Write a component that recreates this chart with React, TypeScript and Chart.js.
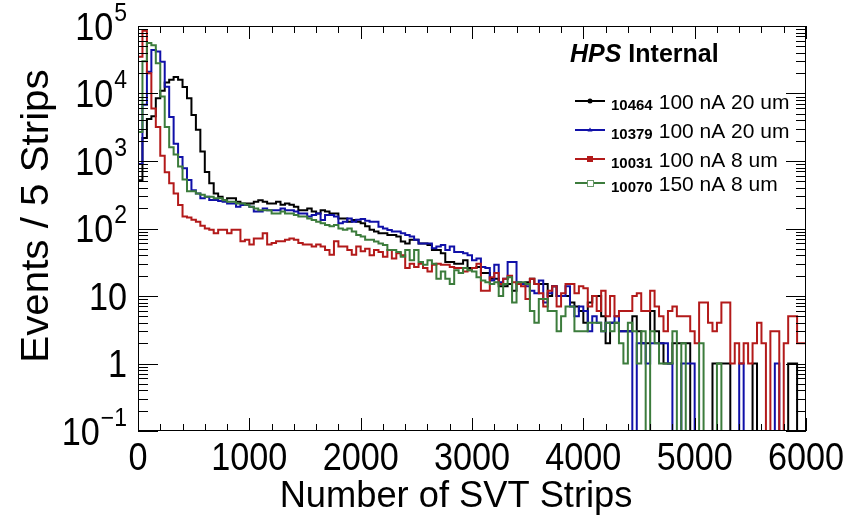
import React, { useEffect, useRef } from "react";
import { Chart, registerables } from "chart.js";

Chart.register(...registerables);

// ---------------- data ----------------
const BIN_WIDTH = 40;
const X_MIN = 0;
const X_MAX = 6000;
const Y_MIN = 0.1;
const Y_MAX = 1e5;
const ZERO_FLOOR = 0.01;

const X_TICKS = [0, 1000, 2000, 3000, 4000, 5000, 6000];
const X_TICK_LABELS = ["0", "1000", "2000", "3000", "4000", "5000", "6000"];
const Y_TICK_VALUES = [0.1, 1, 10, 100, 1000, 10000, 100000];
const Y_TICK_BASES = ["10", "1", "10", "10", "10", "10", "10"];
const Y_TICK_EXPONENTS = ["\u22121", "", "", "2", "3", "4", "5"];

const X_TITLE = "Number of SVT Strips";
const Y_TITLE = "Events / 5 Strips";
const HEADER_ITALIC = "HPS";
const HEADER_REST = " Internal";

const RUN_NUMBERS = ["10464", "10379", "10031", "10070"];
const RUN_LABELS = ["100 nA 20 um", "100 nA 20 um", "100 nA 8 um", "150 nA 8 um"];

const run10464 = [
  300, 520, 2200, 4200, 4600, 8500, 11000, 14500, 16000, 17500,
  16000, 12500, 8500, 4800, 2900, 1380, 690, 470, 330, 295,
  262, 280, 280, 250, 235, 235, 235, 250, 262, 250,
  235, 235, 250, 224, 235, 224, 210, 187, 187, 198,
  178, 167, 187, 178, 167, 167, 141, 141, 126, 134,
  126, 120, 108, 96, 90, 85, 85, 80, 80, 76,
  64, 60, 68, 68, 60, 60, 57, 48, 48, 43,
  32, 32, 30, 30, 34, 26, 26, 27, 22, 22,
  18, 18, 14, 14, 15, 12, 15, 15, 16, 18,
  15, 15, 15, 10, 14, 10, 10, 10, 8, 7,
  6, 4, 8, 10, 10, 5, 2, 4, 4, 3,
  3, 3, 5, 3, 2, 2, 6, 3, 2, 1,
  1, 2, 2, 2, 2, 0, 0, 0, 0, 0,
  1, 1, 1, 1, 0, 0, 0, 0, 0, 1,
  0, 0, 0, 0, 0, 0, 0, 1, 1, 0,
];

const run10379 = [
  20, 900, 6800, 21000, 44000, 42000, 29500, 12600, 4500, 1800,
  1150, 780, 525, 370, 330, 280, 295, 265, 265, 255,
  250, 235, 235, 210, 222, 222, 210, 178, 178, 198,
  187, 187, 187, 198, 187, 187, 178, 167, 167, 150,
  158, 167, 134, 158, 158, 150, 120, 126, 141, 126,
  135, 138, 130, 126, 126, 106, 100, 95, 90, 90,
  85, 80, 76, 68, 60, 60, 60, 51, 54, 57,
  48, 54, 45, 45, 43, 40, 34, 36, 27, 26,
  17, 29, 16, 18, 32, 32, 16, 15, 14, 12,
  11, 17, 8, 11, 14, 10, 10, 14, 7, 5,
  7, 6, 3, 5, 4, 3, 4, 4, 5, 3,
  3, 3, 0, 2, 2, 1, 2, 2, 2, 2,
  1, 0, 0, 1, 1, 1, 0, 0, 0, 0,
  0, 0, 0, 0, 0, 0, 1, 0, 0, 0,
  0, 0, 0, 0, 1, 0, 0, 0, 0, 0,
];

const run10031 = [
  490, 35000, 85000, 20000, 6000, 3200, 1200, 680, 470, 330,
  222, 150, 146, 135, 126, 110, 100, 96, 85, 96,
  96, 85, 96, 96, 65, 68, 58, 71, 71, 85,
  58, 61, 65, 65, 68, 71, 68, 61, 58, 58,
  54, 58, 54, 48, 41, 65, 54, 54, 48, 41,
  54, 46, 50, 40, 48, 45, 38, 48, 36, 43,
  40, 26, 30, 27, 30, 26, 23, 29, 30, 29,
  29, 27, 26, 26, 23, 24, 26, 30, 12, 12,
  19, 22, 15, 18, 20, 16, 15, 14, 9, 18,
  15, 11, 7, 12, 14, 7, 11, 15, 15, 11,
  14, 13, 7, 10, 6, 12, 5, 10, 5, 6,
  6, 6, 10, 11, 6, 6, 12, 7, 5, 3,
  6, 7, 5, 5, 5, 3, 2, 8, 8, 4,
  3, 4, 8, 8, 1, 2, 1, 2, 1, 2,
  4, 2, 0, 3, 3, 0, 2, 5, 5, 2,
];

const run10070 = [
  44, 2700, 30000, 56000, 52000, 28000, 9000, 3200, 1600, 1250,
  830, 530, 355, 355, 330, 315, 295, 295, 280, 280,
  262, 250, 250, 235, 235, 224, 210, 198, 187, 187,
  187, 167, 167, 178, 167, 167, 158, 150, 150, 141,
  134, 126, 120, 113, 108, 113, 100, 96, 100, 90,
  80, 76, 68, 68, 64, 60, 57, 48, 48, 45,
  38, 48, 34, 48, 32, 29, 34, 30, 18, 23,
  18, 15, 24, 22, 26, 24, 23, 19, 17, 16,
  15, 16, 10, 15, 19, 8, 16, 16, 15, 6,
  4, 9, 9, 6, 6, 3, 5, 7, 7, 3,
  3, 3, 4, 4, 4, 3, 4, 3, 4, 2,
  1, 4, 3, 1, 3, 0, 3, 2, 1, 1,
  1, 3, 0, 2, 0, 0, 0, 2, 0, 0,
  0, 1, 0, 0, 0, 0, 0, 0, 0, 0,
  0, 0, 0, 0, 0, 0, 0, 0, 0, 0,
];

const SERIES = [run10464, run10379, run10031, run10070];
const COLORS = ["#000000", "#1010a8", "#b31a1a", "#3c7c3c"];
const MARKERS = ["circle", "triangle", "square", "openSquare"];

// ---------------- helpers ----------------
const FONT = '"Liberation Sans", Arial, Helvetica, sans-serif';

function drawText(
  ctx: CanvasRenderingContext2D,
  text: string,
  x: number,
  y: number,
  font: string,
  align: "left" | "center" | "right",
  sx = 1
) {
  ctx.save();
  ctx.font = font;
  ctx.textBaseline = "alphabetic";
  ctx.textAlign = "left";
  const w = ctx.measureText(text).width * sx;
  const x0 = align === "center" ? x - w / 2 : align === "right" ? x - w : x;
  ctx.translate(x0, y);
  ctx.scale(sx, 1);
  ctx.fillText(text, 0, 0);
  ctx.restore();
  return w;
}

function histPoints(values: number[]) {
  const pts = values.map((v, i) => ({ x: X_MIN + i * BIN_WIDTH, y: v > 0 ? v : ZERO_FLOOR }));
  const last = values[values.length - 1];
  pts.push({ x: X_MIN + values.length * BIN_WIDTH, y: last > 0 ? last : ZERO_FLOOR });
  return pts;
}

const rootStylePlugin = {
  id: "rootStyle",
  afterDatasetsDraw(chart: any) {
    const ctx: CanvasRenderingContext2D = chart.ctx;
    const { left, right, top, bottom } = chart.chartArea;
    const xs = chart.scales.x;
    const ys = chart.scales.y;
    ctx.save();
    ctx.strokeStyle = "#000";
    ctx.fillStyle = "#000";
    ctx.lineWidth = 1;

    const seg = (x1: number, y1: number, x2: number, y2: number) => {
      ctx.beginPath();
      ctx.moveTo(x1, y1);
      ctx.lineTo(x2, y2);
      ctx.stroke();
    };

    // frame
    ctx.strokeRect(left + 0.5, top + 0.5, right - left - 1, bottom - top - 1);

    // x ticks (bottom & top)
    for (let v = X_MIN; v <= X_MAX; v += 200) {
      const px = Math.round(xs.getPixelForValue(v)) + 0.5;
      const len = v % 1000 === 0 ? 13 : 7;
      seg(px, bottom, px, bottom - len);
      seg(px, top, px, top + len);
    }
    // y ticks (left & right)
    for (let e = -1; e <= 5; e++) {
      for (let m = 1; m <= 9; m++) {
        const v = m * Math.pow(10, e);
        if (v < Y_MIN * 0.999 || v > Y_MAX * 1.001) continue;
        const py = Math.round(ys.getPixelForValue(v)) + 0.5;
        const len = m === 1 ? 20 : 10;
        seg(left, py, left + len, py);
        seg(right, py, right - len, py);
      }
    }

    // y tick labels
    const mainSize = 38;
    const supSize = 25;
    const labelRight = 127;
    Y_TICK_VALUES.forEach((v, i) => {
      const py = ys.getPixelForValue(v);
      const base = Y_TICK_BASES[i];
      const sup = Y_TICK_EXPONENTS[i];
      const baseY = py + (mainSize * 0.716) / 2;
      let supW = 0;
      if (sup) {
        supW = drawText(ctx, sup, labelRight, py - 5.5, `${supSize}px ${FONT}`, "right", 0.92);
      }
      drawText(ctx, base, labelRight - (sup ? supW + 1 : 0), baseY, `${mainSize}px ${FONT}`, "right", 0.9);
    });

    // x tick labels
    X_TICKS.forEach((v, i) => {
      const px = xs.getPixelForValue(v);
      drawText(ctx, X_TICK_LABELS[i], px, 470, `${mainSize}px ${FONT}`, "center", 0.9);
    });

    // x title
    drawText(ctx, X_TITLE, 456, 507, `37px ${FONT}`, "center", 0.98);

    // y title
    ctx.save();
    ctx.translate(48, 216);
    ctx.rotate(-Math.PI / 2);
    drawText(ctx, Y_TITLE, 0, 0, `38px ${FONT}`, "center", 1.06);
    ctx.restore();

    // header
    const wItal = drawText(ctx, HEADER_ITALIC, 570, 62, `italic bold 25px ${FONT}`, "left", 1);
    drawText(ctx, HEADER_REST, 570 + wItal, 62, `bold 25px ${FONT}`, "left", 1);

    // legend
    const rows = [101, 130, 159, 183];
    rows.forEach((ry, i) => {
      const c = COLORS[i];
      ctx.strokeStyle = c;
      ctx.fillStyle = c;
      ctx.lineWidth = 2;
      seg(575, ry, 605, ry);
      const mx = 590;
      const mk = MARKERS[i];
      if (mk === "circle") {
        ctx.beginPath();
        ctx.arc(mx, ry, 2.5, 0, Math.PI * 2);
        ctx.fill();
      } else if (mk === "triangle") {
        ctx.beginPath();
        ctx.moveTo(mx, ry - 2.5);
        ctx.lineTo(mx + 2.5, ry + 1.5);
        ctx.lineTo(mx - 2.5, ry + 1.5);
        ctx.closePath();
        ctx.fill();
      } else if (mk === "square") {
        ctx.fillRect(mx - 3, ry - 3, 6, 6);
      } else {
        ctx.fillStyle = "#ffffff";
        ctx.fillRect(mx - 3, ry - 3, 6, 6);
        ctx.lineWidth = 1;
        ctx.strokeStyle = "#6a9a6a";
        ctx.strokeRect(mx - 3 + 0.5, ry - 3 + 0.5, 6, 6);
      }
      ctx.fillStyle = "#000";
      const wNum = drawText(ctx, RUN_NUMBERS[i], 611, ry + 9, `bold 15px ${FONT}`, "left", 1);
      drawText(ctx, RUN_LABELS[i], 611 + wNum + 6, ry + 7.5, `21px ${FONT}`, "left", 1);
    });

    ctx.restore();
  },
};

export default function App() {
  const canvasRef = useRef<HTMLCanvasElement | null>(null);

  useEffect(() => {
    document.body.style.margin = "0";
    const canvas = canvasRef.current;
    if (!canvas) return;
    const order = [4, 3, 2, 1];
    const chart = new Chart(canvas, {
      type: "line",
      data: {
        datasets: SERIES.map((vals, i) => ({
          label: RUN_NUMBERS[i] + " " + RUN_LABELS[i],
          data: histPoints(vals),
          borderColor: COLORS[i],
          backgroundColor: COLORS[i],
          borderWidth: 2,
          pointRadius: 0,
          fill: false,
          stepped: "after" as const,
          tension: 0,
          order: order[i],
        })),
      },
      options: {
        animation: false,
        responsive: false,
        maintainAspectRatio: false,
        events: [],
        layout: { padding: { left: 138, right: 62, top: 26, bottom: 89 } },
        plugins: {
          legend: { display: false },
          tooltip: { enabled: false },
          title: { display: false },
        },
        scales: {
          x: { type: "linear", min: X_MIN, max: X_MAX, display: false },
          y: { type: "logarithmic", min: Y_MIN, max: Y_MAX, display: false },
        },
      },
      plugins: [rootStylePlugin],
    });
    return () => chart.destroy();
  }, []);

  return (
    <div style={{ width: 868, height: 520, background: "#ffffff" }}>
      <canvas ref={canvasRef} width={868} height={520} style={{ display: "block" }} />
    </div>
  );
}
